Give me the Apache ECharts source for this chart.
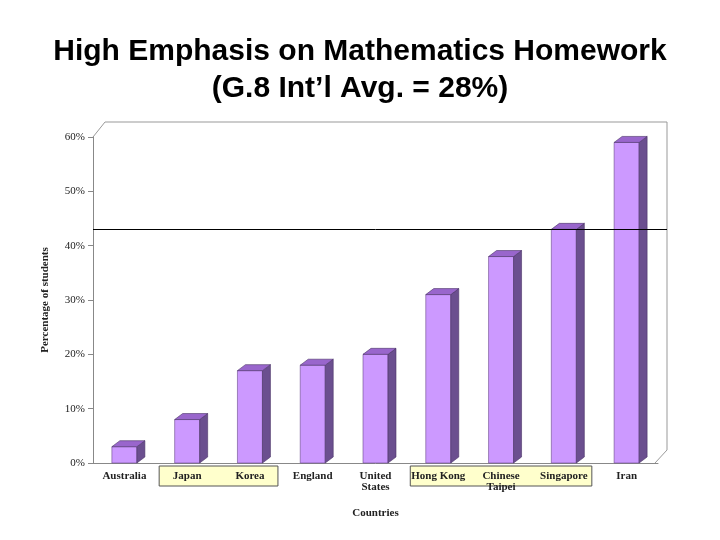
<!DOCTYPE html><html><head><meta charset="utf-8">
<script src="https://cdn.jsdelivr.net/npm/echarts@6/dist/echarts.min.js"></script>
<style>html,body{margin:0;background:#fff}#c{width:720px;height:540px}</style></head><body><div id="c"></div>
<script>
const categories=['Australia','Japan','Korea','England','United\nStates','Hong Kong','Chinese\nTaipei','Singapore','Iran'];
const values=[3,8,17,18,20,31,38,43,59];
const refLine=43;
const highlightGroups=[[1,2],[5,7]];
const chart=echarts.init(document.getElementById('c'));
const serif='Liberation Serif';
chart.setOption({
 animation:false,
 title:{text:'High Emphasis on Mathematics Homework\n(G.8 Int’l Avg. = 28%)',left:'center',top:28,
  textStyle:{fontFamily:'Liberation Sans',fontWeight:'bold',fontSize:30,lineHeight:37,color:'#000'}},
 grid:{left:93,right:62,top:137,bottom:77},
 xAxis:{type:'category',data:categories,axisTick:{show:false},axisLine:{lineStyle:{color:'#888'}},
  axisLabel:{fontFamily:serif,fontWeight:'bold',fontSize:11,color:'#222',margin:8,interval:0},
  name:'Countries',nameLocation:'middle',nameGap:45,nameTextStyle:{fontFamily:serif,fontWeight:'bold',fontSize:11,color:'#222'}},
 yAxis:{type:'value',min:0,max:60,interval:10,splitLine:{show:false},
  axisLine:{show:true,lineStyle:{color:'#888'}},axisTick:{show:true,lineStyle:{color:'#888'}},
  axisLabel:{formatter:'{value}%',fontFamily:serif,fontSize:11,color:'#222'},
  name:'Percentage of students',nameLocation:'middle',nameGap:42,nameTextStyle:{fontFamily:serif,fontWeight:'bold',fontSize:11,color:'#222'}},
 series:[{type:'custom',data:values.map((v,i)=>[i,v]),
  renderItem:function(params,api){
   const p=api.coord([api.value(0),api.value(1)]);const b=api.coord([api.value(0),0]);
   const w=25,dx=8,dy=6,x0=p[0]-w/2,x1=p[0]+w/2;
   return {type:'group',children:[
    {type:'rect',shape:{x:x0,y:p[1],width:w,height:b[1]-p[1]},style:{fill:'#cc99ff',stroke:'#6a4a8a',lineWidth:0.6}},
    {type:'polygon',shape:{points:[[x1,p[1]],[x1+dx,p[1]-dy],[x1+dx,b[1]-dy],[x1,b[1]]]},style:{fill:'#6b4f8f',stroke:'#4a3366',lineWidth:0.6}},
    {type:'polygon',shape:{points:[[x0,p[1]],[x0+dx,p[1]-dy],[x1+dx,p[1]-dy],[x1,p[1]]]},style:{fill:'#9966cc',stroke:'#4a3366',lineWidth:0.6}}
   ]};
  },
  markLine:{silent:true,symbol:'none',label:{show:false},lineStyle:{color:'#000',type:'solid',width:1},data:[{yAxis:refLine}]}
 }]
});
const gr=[];
highlightGroups.forEach(([a,b])=>{
 const pa=chart.convertToPixel({seriesIndex:0},[a,0]);const pb=chart.convertToPixel({seriesIndex:0},[b,0]);
 const half=31;
 gr.push({type:'rect',z:-1,shape:{x:pa[0]-half+3,y:pa[1]+3,width:pb[0]-pa[0]+2*half-6,height:20},style:{fill:'#ffffcc',stroke:'#555',lineWidth:1}});
});
gr.push({type:'polyline',z:-2,shape:{points:[[93,137],[105,122],[667,122],[667,450],[655,463]]},style:{fill:null,stroke:'#999',lineWidth:1}});
gr.push({type:'line',z:-1,shape:{x1:655,y1:229.5,x2:667,y2:229.5},style:{stroke:'#000',lineWidth:1}});
chart.setOption({graphic:gr});
</script></body></html>
